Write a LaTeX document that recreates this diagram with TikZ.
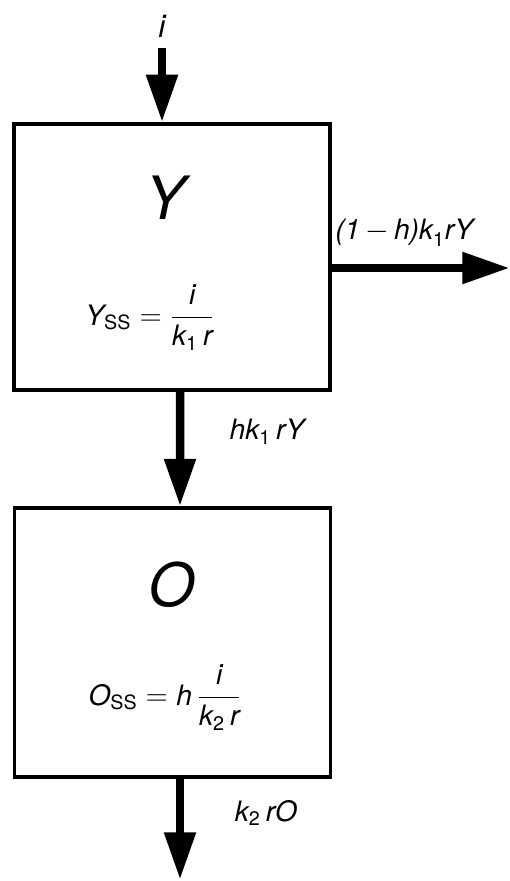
\documentclass[tikz,border=0pt]{standalone}
\usepackage{amsmath}
\usepackage{fontspec}
\setmainfont{TeX Gyre Heros}
\usetikzlibrary{arrows.meta, positioning}
\newcommand{\vi}[1]{\text{\itshape #1}}

\begin{document}
\begin{tikzpicture}[
    pool/.style={rectangle, draw, line width=0.07cm, minimum width=6.32cm, minimum height=5.32cm, inner sep=0pt},
    flow/.style={-{Triangle[length=0.95cm, width=0.6cm]}, line width=0.17cm},
    title/.style={font=\fontsize{34}{40}\selectfont\itshape, inner sep=0pt},
    steady/.style={font=\fontsize{16}{19}\selectfont, inner sep=0pt},
    rate/.style={font=\fontsize{16}{19}\selectfont, inner sep=0pt}
]
\useasboundingbox (0,0) rectangle (10.2,-17.62);

% Pools
\node[pool] (ybox) at (3.44,-5.14) {};
\node[pool, minimum height=5.38cm] (obox) at (3.45,-12.85) {};

\node[title] (ytitle) at (3.3,-3.96) {Y};
\node[title] (otitle) at (3.44,-11.7) {O};

\node[steady] (yss) at (3.0,-6.35) {$\vi{Y}_{\text{SS}} = \dfrac{\vi{i}}{\vi{k}_{\text{1}}\,\vi{r}}$};
\node[steady] (oss) at (3.3,-13.95) {$\vi{O}_{\text{SS}} = \vi{h}\,\dfrac{\vi{i}}{\vi{k}_{\text{2}}\,\vi{r}}$};

% Input
\coordinate (src) at ([xshift=-0.2cm, yshift=1.48cm]ybox.north);
\node[rate, above=0.2cm of src, font=\fontsize{18}{21}\selectfont\itshape] (input) {i};
\draw[flow] (src) -- ([xshift=-0.2cm]ybox.north);

% Outputs
\coordinate (sink) at ([xshift=3.56cm, yshift=-0.22cm]ybox.east);
\draw[flow] ([yshift=-0.22cm]ybox.east) -- (sink);
\draw[flow] ([xshift=0.16cm]ybox.south) -- ([xshift=0.15cm]obox.north);
\coordinate (drain) at ([xshift=0.15cm, yshift=-2.02cm]obox.south);
\draw[flow] ([xshift=0.15cm]obox.south) -- (drain);

% Labels
\node[rate, anchor=west] (loss) at (6.7,-4.66) {$\vi{(1}\,{-}\,\vi{h)k}_{\text{1}}\vi{rY}$};
\node[rate] (transfer) at (5.34,-8.64) {$\vi{hk}_{\text{1}}\,\vi{rY}$};
\node[rate] (decay) at (5.32,-16.26) {$\vi{k}_{\text{2}}\,\vi{rO}$};

\end{tikzpicture}
\end{document}
